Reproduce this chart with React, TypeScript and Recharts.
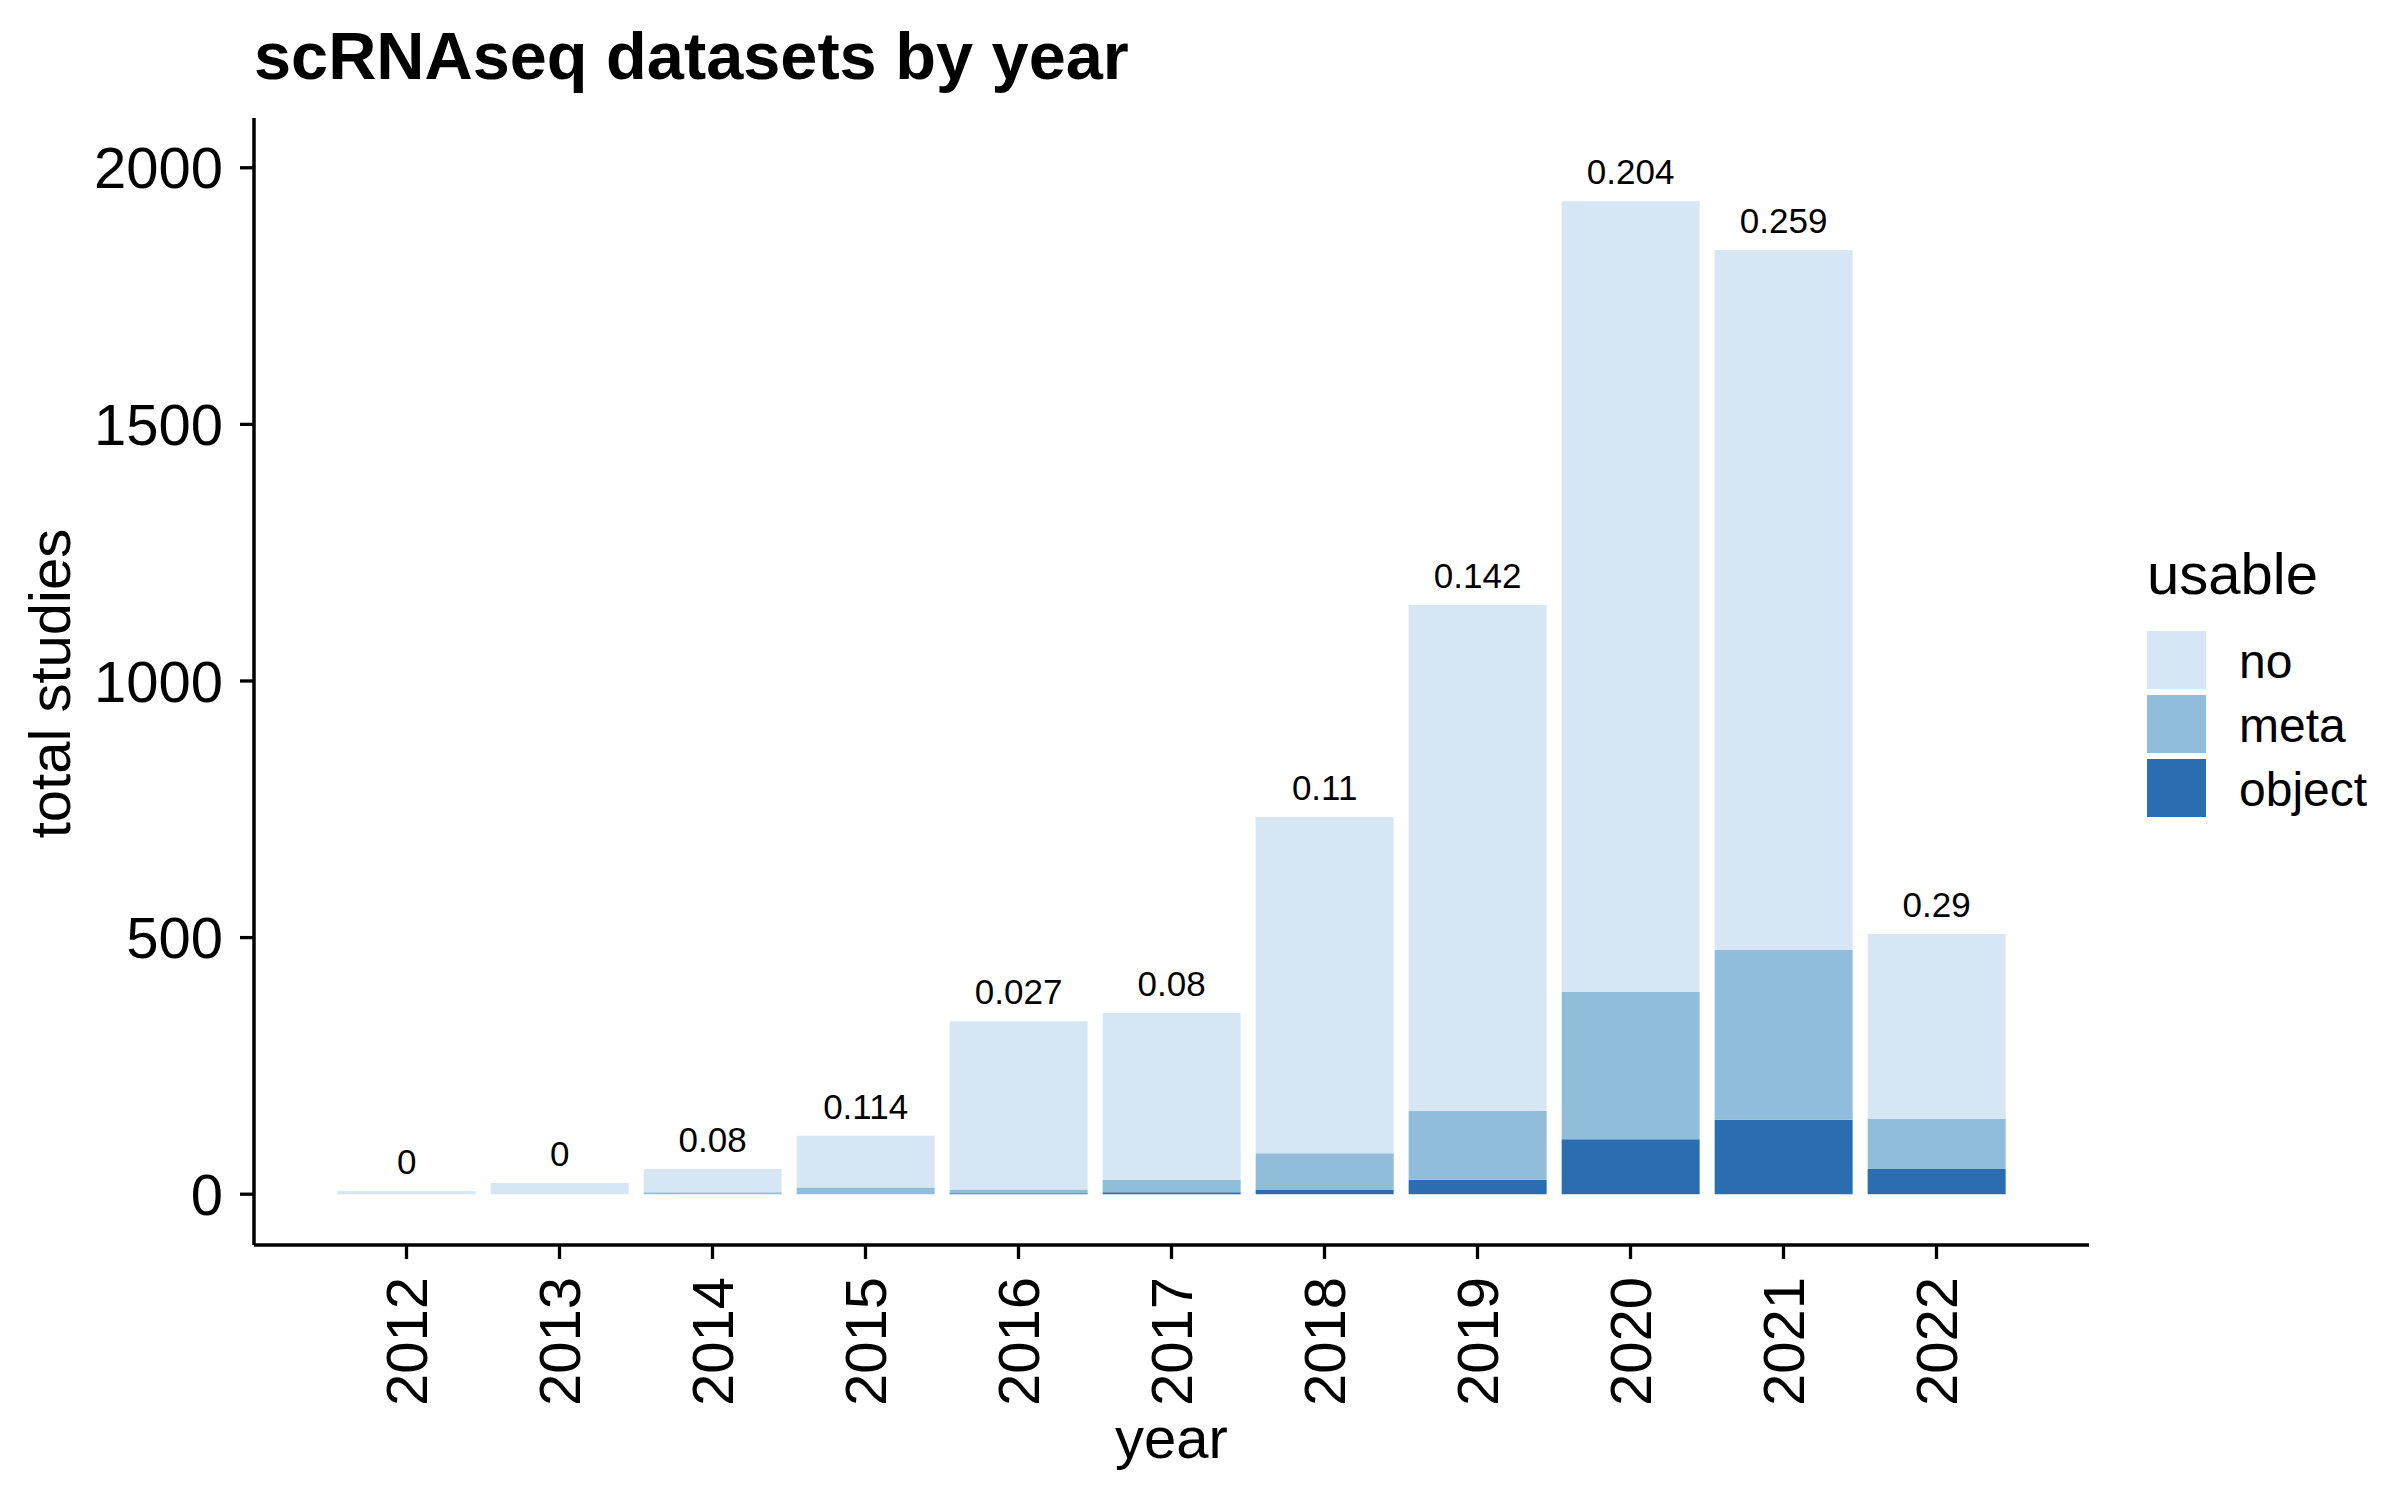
import React from 'react';
import { BarChart, Bar, XAxis, YAxis, Legend, LabelList } from 'recharts';

const years = ['2012', '2013', '2014', '2015', '2016', '2017', '2018', '2019', '2020', '2021', '2022'];
const objectCounts = [0, 0, 0, 0, 2, 4, 8, 28, 107, 145, 49];
const metaCounts = [0, 0, 4, 13, 7, 24, 72, 134, 287, 331, 98];
const noCounts = [6, 22, 45, 101, 328, 325, 655, 986, 1541, 1364, 360];
const usableFraction = ['0', '0', '0.08', '0.114', '0.027', '0.08', '0.11', '0.142', '0.204', '0.259', '0.29'];
const yTicks = [0, 500, 1000, 1500, 2000];
const legendOrder = ['no', 'meta', 'object'];

const FONT = '"Liberation Sans", Arial, Helvetica, sans-serif';
const COLORS: Record<string, string> = { no: '#D6E6F4', meta: '#8FBDDA', object: '#2A6DB0' };

const data = years.map((year, i) => ({
  year,
  object: objectCounts[i],
  meta: metaCounts[i],
  no: noCounts[i],
  frac: usableFraction[i],
}));

const YearTick = (props: any) => {
  const { x, y, payload } = props;
  return (
    <text
      x={x}
      y={y}
      transform={`rotate(-90, ${x}, ${y})`}
      textAnchor="end"
      dy="0.36em"
      fontSize={58}
      fontFamily={FONT}
      fill="#000"
    >
      {payload.value}
    </text>
  );
};

// ggplot-style legend: title, then keys top to bottom in stack order
const LegendBox = () => (
  <svg width={300} height={320}>
    <text x={47} y={74} fontSize={58} fontFamily={FONT} fill="#000">
      usable
    </text>
    {legendOrder.map((name, i) => (
      <g key={name}>
        <rect x={47} y={111 + i * 64} width={59} height={58} fill={COLORS[name]} />
        <text x={139} y={111 + i * 64 + 47} fontSize={48} fontFamily={FONT} fill="#000">
          {name}
        </text>
      </g>
    ))}
  </svg>
);

const App: React.FC = () => {
  return (
    <div style={{ position: 'absolute', left: 0, top: 0, width: 2400, height: 1500, background: '#fff' }}>
      <div
        style={{
          position: 'absolute',
          left: 254,
          top: 22.5,
          fontFamily: FONT,
          fontWeight: 'bold',
          fontSize: 66.7,
          lineHeight: '66.7px',
          whiteSpace: 'nowrap',
          color: '#000',
        }}
      >
        scRNAseq datasets by year
      </div>
      <BarChart
        width={2400}
        height={1500}
        data={data}
        margin={{ top: 118, right: 311, left: 0, bottom: 105 }}
        barCategoryGap="5%"
      >
        <XAxis
          dataKey="year"
          height={150}
          padding={{ left: 76, right: 76 }}
          interval={0}
          tickSize={14}
          tickMargin={18}
          tick={YearTick}
          axisLine={{ stroke: '#000', strokeWidth: 3.5 }}
          tickLine={{ stroke: '#000', strokeWidth: 3.3 }}
          label={{
            content: (p: any) => {
              const vb = p.viewBox || {};
              return (
                <text
                  x={vb.x + vb.width / 2}
                  y={vb.y + 213}
                  textAnchor="middle"
                  fontSize={58}
                  fontFamily={FONT}
                  fill="#000"
                >
                  year
                </text>
              );
            },
          }}
        />
        <YAxis
          type="number"
          width={254}
          domain={[-99, 2097]}
          ticks={yTicks}
          allowDataOverflow
          interval={0}
          tickSize={14}
          tickMargin={17}
          tick={{ fontSize: 58, fontFamily: FONT, fill: '#000' }}
          axisLine={{ stroke: '#000', strokeWidth: 3.5 }}
          tickLine={{ stroke: '#000', strokeWidth: 3.3 }}
          label={{
            content: (p: any) => {
              const vb = p.viewBox || {};
              const cx = vb.x + 70;
              const cy = vb.y + vb.height / 2 + 2;
              return (
                <text
                  x={cx}
                  y={cy}
                  transform={`rotate(-90, ${cx}, ${cy})`}
                  textAnchor="middle"
                  fontSize={58}
                  fontFamily={FONT}
                  fill="#000"
                >
                  total studies
                </text>
              );
            },
          }}
        />
        <Legend
          layout="horizontal"
          align="center"
          verticalAlign="middle"
          wrapperStyle={{ left: 2100, top: 520, width: 300, height: 320 }}
          content={LegendBox}
        />
        <Bar dataKey="object" name="object" stackId="a" fill={COLORS.object} isAnimationActive={false} />
        <Bar dataKey="meta" name="meta" stackId="a" fill={COLORS.meta} isAnimationActive={false} />
        <Bar dataKey="no" name="no" stackId="a" fill={COLORS.no} isAnimationActive={false}>
          <LabelList
            dataKey="frac"
            position="top"
            offset={17}
            fontSize={35}
            fontFamily={FONT}
            fill="#000"
            isAnimationActive={false}
          />
        </Bar>
      </BarChart>
    </div>
  );
};

export default App;
